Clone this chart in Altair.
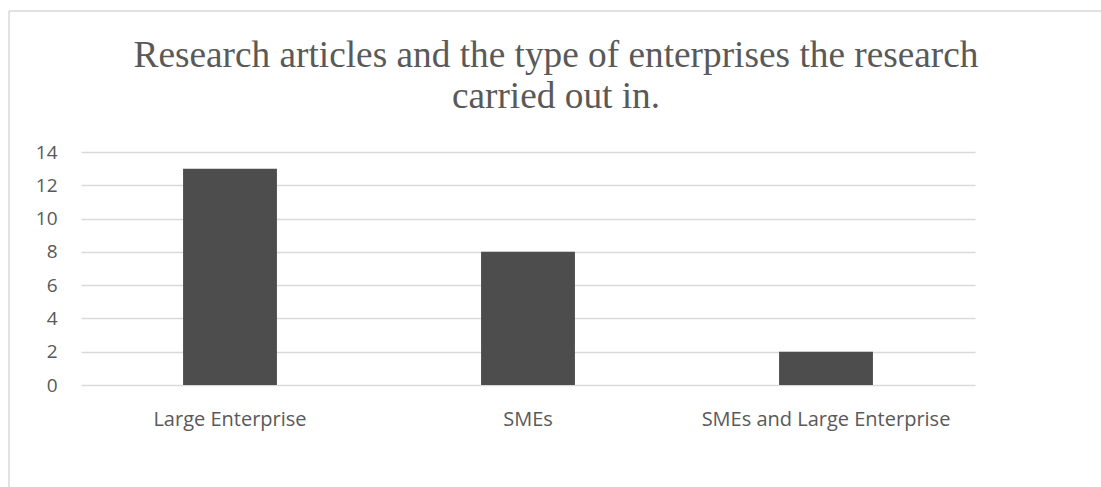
import altair as alt
import pandas as pd

categories = ["Large Enterprise", "SMEs", "SMEs and Large Enterprise"]
counts = [13, 8, 2]
y_ticks = [0, 2, 4, 6, 8, 10, 12, 14]
title_lines = ["Research articles and the type of enterprises the research", "carried out in."]

df = pd.DataFrame({"category": categories, "count": counts})

TXT = "#595959"
GRID = "#d9d9d9"

bars = alt.Chart(df).mark_bar(color="#4d4d4d", width=alt.RelativeBandSize(0.315)).encode(
    x=alt.X("category:N", sort=categories,
            scale=alt.Scale(paddingInner=0, paddingOuter=0),
            axis=alt.Axis(title=None, labelAngle=0, domain=False, ticks=False, tickSize=0,
                          labelPadding=24, labelFont="Open Sans", labelFontSize=20,
                          labelColor=TXT, grid=False, labelLimit=0)),
    y=alt.Y("count:Q", scale=alt.Scale(domain=[0, 14], nice=False),
            axis=alt.Axis(title=None, values=y_ticks, domain=False, ticks=False, tickSize=0,
                          labelPadding=24, labelFont="Open Sans", labelFontSize=19,
                          labelColor=TXT, grid=True, gridColor=GRID, gridWidth=1.5)),
)

border_top = alt.Chart(df.head(1)).mark_rule(color=GRID, strokeWidth=1.5).encode(
    x=alt.value(-72), x2=alt.value(1040), y=alt.value(-141)
)
border_left = alt.Chart(df.head(1)).mark_rule(color=GRID, strokeWidth=1.5).encode(
    x=alt.value(-72), y=alt.value(-141), y2=alt.value(350)
)

title_df = pd.DataFrame({"t": ["\n".join(title_lines)]})
title = alt.Chart(title_df).mark_text(
    font="Liberation Serif", fontSize=37.3, color=TXT, align="center",
    baseline="alphabetic", lineBreak="\n", lineHeight=41
).encode(text="t:N", x=alt.value(475), y=alt.value(-85))

chart = alt.layer(border_top, border_left, bars, title).properties(
    width=894,
    height=233,
    padding={"left": 81, "top": 152, "right": 126, "bottom": 102},
    autosize=alt.AutoSizeParams(type="none"),
    background="white",
).configure_view(stroke=None, strokeWidth=0)

chart.save("out.html", embed_options={"renderer": "svg", "actions": False})
